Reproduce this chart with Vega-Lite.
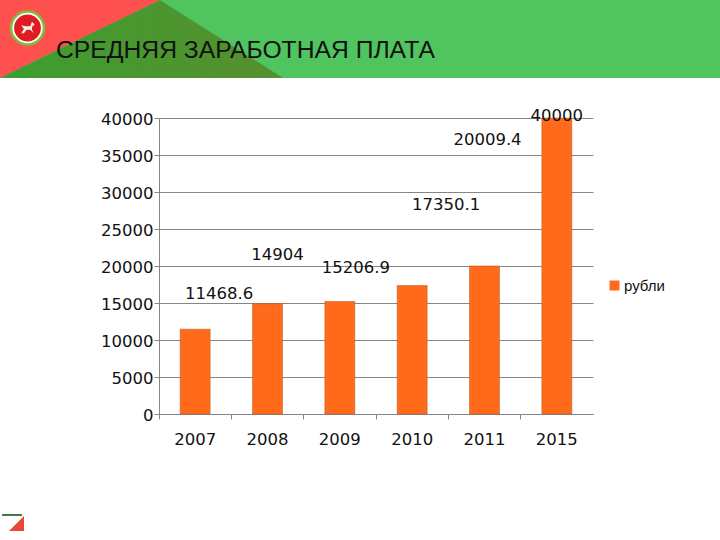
{
  "$schema": "https://vega.github.io/schema/vega-lite/v6.json",
  "width": 434,
  "height": 296,
  "autosize": "none",
  "padding": {"left": 159, "top": 118, "right": 127, "bottom": 126},
  "background": "white",
  "datasets": {
    "salary": [
      {"year": "2007", "rub": 11468.6, "series": "рубли"},
      {"year": "2008", "rub": 14904, "series": "рубли"},
      {"year": "2009", "rub": 15206.9, "series": "рубли"},
      {"year": "2010", "rub": 17350.1, "series": "рубли"},
      {"year": "2011", "rub": 20009.4, "series": "рубли"},
      {"year": "2015", "rub": 40000, "series": "рубли"}
    ],
    "band": [
      {"px": 0, "top": 0, "bottom": 78},
      {"px": 720, "top": 0, "bottom": 78}
    ],
    "red": [
      {"px": 0, "top": 0, "bottom": 78},
      {"px": 160, "top": 0, "bottom": 0}
    ],
    "green": [
      {"px": 0, "top": 78, "bottom": 78},
      {"px": 160, "top": 0, "bottom": 78},
      {"px": 283, "top": 78, "bottom": 78}
    ],
    "logo": [{"px": 27.5, "top": 28}],
    "footer": [
      {"px": 9, "top": 531, "bottom": 531},
      {"px": 24, "top": 516, "bottom": 531}
    ],
    "footerMark": [
      {"px": 2, "top": 515},
      {"px": 22, "top": 515}
    ]
  },
  "title": {
    "text": "СРЕДНЯЯ ЗАРАБОТНАЯ ПЛАТА",
    "anchor": "start",
    "frame": "group",
    "dx": -103,
    "offset": -63,
    "font": "Liberation Sans",
    "fontSize": 24.7,
    "fontWeight": "normal",
    "color": "#111111"
  },
  "layer": [
    {
      "encoding": {
        "x": {"field": "px", "type": "quantitative", "axis": null, "scale": {"domain": [0, 720], "range": [-159, 561]}},
        "y": {"field": "top", "type": "quantitative", "axis": null, "scale": {"domain": [0, 540], "range": [-118, 422]}}
      },
      "layer": [
        {"data": {"name": "band"}, "mark": {"type": "area", "color": "#4FC45F", "clip": false}, "encoding": {"y2": {"field": "bottom"}}},
        {"data": {"name": "red"}, "mark": {"type": "area", "color": "#FF5050", "clip": false}, "encoding": {"y2": {"field": "bottom"}}},
        {"data": {"name": "green"}, "mark": {"type": "area", "clip": false, "color": {"gradient": "linear", "x1": 0, "x2": 1, "y1": 0, "y2": 0, "stops": [{"offset": 0, "color": "#3D9E30"}, {"offset": 1, "color": "#568F2E"}]}}, "encoding": {"y2": {"field": "bottom"}}},
        {"data": {"name": "logo"}, "mark": {"type": "point", "shape": "circle", "filled": true, "size": 1260, "color": "#7DBF3C", "opacity": 1}},
        {"data": {"name": "logo"}, "mark": {"type": "point", "shape": "circle", "filled": true, "size": 920, "color": "#FFFFFF", "opacity": 1}},
        {"data": {"name": "logo"}, "mark": {"type": "point", "shape": "circle", "filled": true, "size": 720, "color": "#E01B22", "opacity": 1}},
        {"data": {"name": "logo"}, "mark": {"type": "point", "shape": "M-0.7 0.6L-0.4 0.1L-0.7-0.3L-0.2-0.2L0.3-0.2L0.5-0.7L0.8-0.4L0.5-0.1L0.5 0.2L0.7 0.6L0.3 0.2L-0.1 0.2L-0.4 0.6Z", "filled": true, "size": 320, "color": "#F4EFE6", "opacity": 1}},
        {"data": {"name": "footer"}, "mark": {"type": "area", "color": "#E8483A", "clip": false}, "encoding": {"y2": {"field": "bottom"}}},
        {"data": {"name": "footerMark"}, "mark": {"type": "line", "color": "#3E7D4A", "strokeWidth": 2, "clip": false}}
      ]
    },
    {
      "data": {"name": "salary"},
      "encoding": {
        "x": {
          "field": "year",
          "type": "ordinal",
          "title": null,
          "scale": {"padding": 0},
          "axis": {
            "bandPosition": 0,
            "grid": false,
            "labelAngle": 0,
            "labelFont": "DejaVu Sans",
            "labelFontSize": 16.5,
            "labelColor": "#111111",
            "labelPadding": 20,
            "labelBaseline": "middle",
            "tickSize": 5,
            "tickColor": "#868686",
            "domainColor": "#868686"
          }
        },
        "y": {
          "field": "rub",
          "type": "quantitative",
          "title": null,
          "scale": {"domain": [0, 40000], "nice": false},
          "axis": {
            "values": [0, 5000, 10000, 15000, 20000, 25000, 30000, 35000, 40000],
            "format": "d",
            "grid": true,
            "gridColor": "#868686",
            "gridOpacity": 1,
            "labelFont": "DejaVu Sans",
            "labelFontSize": 16.5,
            "labelColor": "#111111",
            "labelPadding": 1,
            "labelBaseline": "middle",
            "labelOffset": 1,
            "tickSize": 5,
            "tickColor": "#868686",
            "domainColor": "#868686"
          }
        }
      },
      "layer": [
        {
          "mark": {"type": "bar", "width": 30, "stroke": "#B5561F", "strokeWidth": 0.5},
          "encoding": {
            "color": {
              "field": "series",
              "type": "nominal",
              "title": null,
              "scale": {"range": ["#FF6B1A"]},
              "legend": {
                "orient": "none",
                "legendX": 448,
                "legendY": 160,
                "symbolType": "square",
                "symbolSize": 100,
                "symbolStrokeWidth": 0,
                "labelFont": "Liberation Sans",
                "labelFontSize": 15,
                "labelColor": "#111111",
                "labelOffset": 2
              }
            }
          }
        },
        {
          "encoding": {
            "text": {"field": "rub", "type": "quantitative", "format": ".1~f"}
          },
          "layer": [
            {"transform": [{"filter": "datum.year === '2007'"}], "mark": {"type": "text", "font": "DejaVu Sans", "fontSize": 16.5, "color": "#111111", "dx": 24, "dy": -35}},
            {"transform": [{"filter": "datum.year === '2008'"}], "mark": {"type": "text", "font": "DejaVu Sans", "fontSize": 16.5, "color": "#111111", "dx": 10, "dy": -49}},
            {"transform": [{"filter": "datum.year === '2009'"}], "mark": {"type": "text", "font": "DejaVu Sans", "fontSize": 16.5, "color": "#111111", "dx": 16, "dy": -33}},
            {"transform": [{"filter": "datum.year === '2010'"}], "mark": {"type": "text", "font": "DejaVu Sans", "fontSize": 16.5, "color": "#111111", "dx": 34, "dy": -81}},
            {"transform": [{"filter": "datum.year === '2011'"}], "mark": {"type": "text", "font": "DejaVu Sans", "fontSize": 16.5, "color": "#111111", "dx": 3, "dy": -126}},
            {"transform": [{"filter": "datum.year === '2015'"}], "mark": {"type": "text", "font": "DejaVu Sans", "fontSize": 16.5, "color": "#111111", "dx": 0, "dy": -2}}
          ]
        }
      ]
    }
  ],
  "resolve": {"scale": {"x": "independent", "y": "independent"}},
  "config": {"view": {"stroke": null}}
}
